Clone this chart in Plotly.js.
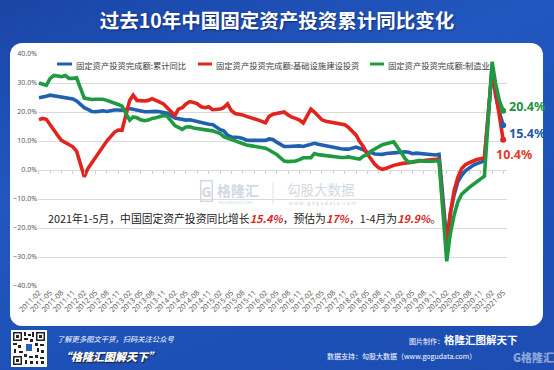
<!DOCTYPE html>
<html>
<head>
<meta charset="utf-8">
<script src="https://cdn.plot.ly/plotly-3.0.1.min.js"></script>
<style>
html,body{margin:0;padding:0;width:554px;height:370px;overflow:hidden;background:#1e4fb3;}
#bg{position:absolute;left:0;top:0;width:554px;height:370px;
 background:linear-gradient(160deg,#1a45a6 0%,#2157bf 35%,#1d52b8 60%,#1c4db2 100%);}
#panel{position:absolute;left:10px;top:43px;width:533px;height:283px;background:#ffffff;border-radius:12px;}
#qr{position:absolute;left:11px;top:330px;}
#chart{position:absolute;left:0;top:0;width:554px;height:370px;}
</style>
</head>
<body>
<div id="bg"></div>
<div id="panel"></div>
<svg id="qr" width="36" height="37" viewBox="0 0 36 37">
 <rect x="0" y="0" width="36" height="37" fill="#fff"/>
 <rect x="2" y="2" width="9" height="9" fill="#222"/><rect x="3.5" y="3.5" width="6" height="6" fill="#fff"/><rect x="5" y="5" width="3" height="3" fill="#222"/>
 <rect x="25" y="2" width="9" height="9" fill="#222"/><rect x="26.5" y="3.5" width="6" height="6" fill="#fff"/><rect x="28" y="5" width="3" height="3" fill="#222"/>
 <rect x="2" y="26" width="9" height="9" fill="#222"/><rect x="3.5" y="27.5" width="6" height="6" fill="#fff"/><rect x="5" y="29" width="3" height="3" fill="#222"/>
 <rect x="13" y="2" width="2" height="4" fill="#222"/><rect x="17" y="4" width="3" height="2" fill="#222"/><rect x="21" y="2" width="2" height="5" fill="#222"/>
 <rect x="13" y="8" width="4" height="2" fill="#222"/><rect x="19" y="9" width="3" height="3" fill="#222"/><rect x="2" y="13" width="4" height="2" fill="#222"/>
 <rect x="7" y="15" width="3" height="3" fill="#222"/><rect x="3" y="19" width="2" height="4" fill="#222"/><rect x="8" y="21" width="4" height="2" fill="#222"/>
 <rect x="15" y="14" width="6" height="7" fill="#2a5fb8"/><rect x="24" y="13" width="3" height="3" fill="#222"/><rect x="29" y="14" width="4" height="2" fill="#222"/>
 <rect x="26" y="18" width="2" height="4" fill="#222"/><rect x="30" y="20" width="3" height="3" fill="#222"/><rect x="13" y="24" width="3" height="3" fill="#222"/>
 <rect x="18" y="26" width="4" height="2" fill="#222"/><rect x="14" y="30" width="2" height="4" fill="#222"/><rect x="19" y="31" width="3" height="3" fill="#222"/>
 <rect x="24" y="25" width="3" height="3" fill="#222"/><rect x="29" y="27" width="4" height="2" fill="#222"/><rect x="25" y="31" width="2" height="3" fill="#222"/><rect x="30" y="31" width="3" height="3" fill="#222"/>
</svg>
<div id="chart"></div>
<script>
// ---- data ----
const months = [
 '2011-02','2011-03','2011-04','2011-05','2011-06','2011-07','2011-08','2011-09','2011-10','2011-11','2011-12',
 '2012-02','2012-03','2012-04','2012-05','2012-06','2012-07','2012-08','2012-09','2012-10','2012-11','2012-12',
 '2013-02','2013-03','2013-04','2013-05','2013-06','2013-07','2013-08','2013-09','2013-10','2013-11','2013-12',
 '2014-02','2014-03','2014-04','2014-05','2014-06','2014-07','2014-08','2014-09','2014-10','2014-11','2014-12',
 '2015-02','2015-03','2015-04','2015-05','2015-06','2015-07','2015-08','2015-09','2015-10','2015-11','2015-12',
 '2016-02','2016-03','2016-04','2016-05','2016-06','2016-07','2016-08','2016-09','2016-10','2016-11','2016-12',
 '2017-02','2017-03','2017-04','2017-05','2017-06','2017-07','2017-08','2017-09','2017-10','2017-11','2017-12',
 '2018-02','2018-03','2018-04','2018-05','2018-06','2018-07','2018-08','2018-09','2018-10','2018-11','2018-12',
 '2019-02','2019-03','2019-04','2019-05','2019-06','2019-07','2019-08','2019-09','2019-10','2019-11','2019-12',
 '2020-02','2020-03','2020-04','2020-05','2020-06','2020-07','2020-08','2020-09','2020-10','2020-11','2020-12',
 '2021-02','2021-03','2021-04','2021-05'
];
// 固定资产投资完成额:累计同比 (%)
const totalYoY = [
 24.9,25.0,25.4,25.8,25.6,25.4,25.0,24.9,24.9,24.5,23.8,
 21.5,20.9,20.2,20.1,20.4,20.4,20.2,20.5,20.7,20.7,20.6,
 21.2,20.9,20.6,20.4,20.1,20.1,20.3,20.2,20.1,19.9,19.6,
 17.9,17.6,17.3,17.2,17.3,17.0,16.5,16.1,15.9,15.8,15.7,
 13.9,13.5,12.0,11.4,11.4,11.2,10.9,10.3,10.2,10.2,10.0,
 10.2,10.7,10.5,9.6,9.0,8.1,8.1,8.2,8.3,8.3,8.1,
 8.9,9.2,8.9,8.6,8.6,8.3,7.8,7.5,7.3,7.2,7.2,
 7.9,7.5,7.0,6.1,6.0,5.5,5.3,5.4,5.7,5.9,5.9,
 6.1,6.3,6.1,5.6,5.8,5.7,5.5,5.4,5.2,5.2,5.4,
 -24.5,-15.0,-8.5,-4.0,-1.8,-0.3,0.8,1.6,2.2,2.7,3.1,
 35.0,25.6,19.9,15.4
];
// 固定资产投资完成额:基础设施建设投资 (%)
const infraYoY = [
 17.3,17.8,17.5,15.5,13.8,12.0,10.2,9.5,9.0,8.0,6.5,
 -2.3,0.5,2.5,4.5,6.5,8.5,10.0,11.5,13.0,13.8,13.7,
 24.0,25.8,24.0,23.8,23.8,24.0,24.6,24.0,23.3,22.8,21.5,
 18.8,21.0,21.5,22.8,23.6,23.3,22.8,21.8,21.5,21.8,20.8,
 21.0,21.5,22.8,20.5,19.5,19.3,19.0,18.5,18.0,17.7,17.3,
 16.3,18.5,19.2,19.5,19.8,20.0,19.0,18.2,17.8,17.2,16.2,
 21.0,20.0,18.5,17.3,16.8,16.6,16.4,16.2,16.0,15.6,14.7,
 12.0,9.8,8.0,5.6,3.8,2.0,0.8,0.2,0.6,1.1,1.6,
 2.2,2.4,2.6,2.9,3.0,3.2,3.3,3.4,3.5,3.6,3.7,
 -27.0,-15.0,-7.0,-2.5,0.5,1.8,2.5,3.2,3.6,3.9,4.2,
 34.5,26.8,18.4,10.4
];
// 固定资产投资完成额:制造业 (%)
const mfgYoY = [
 30.0,29.5,29.2,31.5,32.6,32.4,32.2,32.6,31.6,31.6,31.8,
 24.8,24.5,24.3,24.4,24.5,24.4,24.0,23.6,23.1,22.6,22.0,
 17.2,18.3,18.0,17.3,17.0,17.2,17.8,18.0,18.5,18.8,18.5,
 15.3,14.7,14.0,14.8,14.9,14.5,14.3,14.2,13.9,13.8,13.5,
 12.6,11.5,11.0,10.5,10.3,9.8,9.2,8.6,8.4,8.2,7.9,
 7.5,6.9,6.2,5.4,4.2,3.1,2.9,3.0,3.1,3.6,4.2,
 4.2,5.7,5.3,5.1,5.0,4.8,4.6,4.4,4.3,4.3,4.5,
 4.0,3.8,4.8,5.3,6.5,7.4,8.0,8.7,9.1,9.5,9.7,
 5.9,4.0,2.6,2.8,3.0,3.3,3.0,2.9,3.0,3.1,3.2,
 -31.5,-22.0,-15.5,-11.0,-8.3,-7.0,-6.0,-5.0,-4.0,-3.0,-2.1,
 37.3,29.8,23.8,20.4
];
const seriesNames = ['固定资产投资完成额:累计同比','固定资产投资完成额:基础设施建设投资','固定资产投资完成额:制造业'];
const seriesData = [totalYoY, infraYoY, mfgYoY];
const titleText = '过去10年中国固定资产投资累计同比变化';

// ---- styles ----
const lineColors = ['#2160b0','#e3241d','#1f9a40'];
const labelColors = ['#2458a8','#e23a2e','#22923f'];
const FONT = 'Noto Sans CJK SC, sans-serif';
const ML = 38, MT = 54, PW = 469, PH = 232;
const fx = x => (x - ML) / PW;
const fy = y => (MT + PH - y) / PH;

const traces = [];
seriesData.forEach((d, i) => {
  traces.push({type:'scatter', mode:'lines', x: months, y: d, name: seriesNames[i],
    line:{color: lineColors[i], width: 3.6}, hoverinfo:'skip', showlegend:false});
});
seriesData.forEach((d, i) => {
  const n = d.length - 1;
  traces.push({type:'scatter', mode:'markers', x:[months[n]], y:[d[n]], xaxis:'x2',
    marker:{color: lineColors[i], size: 6}, hoverinfo:'skip', showlegend:false});
});

const shapes = [];
const annotations = [];
// manual legend
const legendItems = [
  {x0:57, x1:72, tx:74},
  {x0:198, x1:212, tx:214},
  {x0:370, x1:384, tx:386}
];
legendItems.forEach((it, i) => {
  shapes.push({type:'line', xref:'paper', yref:'paper', x0:fx(it.x0), x1:fx(it.x1), y0:fy(64), y1:fy(64),
    line:{color: lineColors[i], width: 3}});
  annotations.push({xref:'paper', yref:'paper', x:fx(it.tx), y:fy(64.5), xanchor:'left', yanchor:'middle',
    text: seriesNames[i], showarrow:false, font:{family:FONT, size:8.3, color:'#404040'}});
});
// end labels
[0,1,2].forEach(i => {
  const d = seriesData[i], n = d.length - 1;
  const o = [ {xs:4, ys:-8}, {xs:-9, ys:-15}, {xs:4, ys:4} ][i];
  annotations.push({x: months[n], y: d[n], xref:'x', yref:'y', xanchor:'left', yanchor:'middle',
    xshift:o.xs, yshift:o.ys, showarrow:false, text: d[n].toFixed(1) + '%',
    font:{family:'Noto Sans, DejaVu Sans, sans-serif', size:12.5, color: labelColors[i], weight:700}});
});
// watermark
annotations.push({xref:'paper', yref:'paper', x:fx(206.5), y:fy(191), xanchor:'center', yanchor:'middle', showarrow:false,
  text:'G', font:{family:'Noto Sans, sans-serif', size:14, color:'#d3d9e3', weight:700},
  bordercolor:'#d3d9e3', borderwidth:1.5, borderpad:0});
annotations.push({xref:'paper', yref:'paper', x:fx(215), y:fy(190), xanchor:'left', yanchor:'middle', showarrow:false,
  text:'格隆汇', font:{family:FONT, size:14, color:'#d3d9e3', weight:700}});
annotations.push({xref:'paper', yref:'paper', x:fx(216), y:fy(203), xanchor:'left', yanchor:'middle', showarrow:false,
  text:'GELONGHUI.COM', font:{family:'Noto Sans, sans-serif', size:4, color:'#d3d9e3'}});
shapes.push({type:'line', xref:'paper', yref:'paper', x0:fx(273), x1:fx(273), y0:fy(182), y1:fy(204), line:{color:'#dde1e8', width:1}});
annotations.push({xref:'paper', yref:'paper', x:fx(285), y:fy(189), xanchor:'left', yanchor:'middle', showarrow:false,
  text:'勾股大数据', font:{family:FONT, size:13.5, color:'#d3d9e3'}});
annotations.push({xref:'paper', yref:'paper', x:fx(287), y:fy(203), xanchor:'left', yanchor:'middle', showarrow:false,
  text:'w w w . g o g u d a t a . c o m', font:{family:'Noto Sans, sans-serif', size:5, color:'#ccd2dc'}});
// note text
const hl = s => '<span style="color:#d42a2a"><b><i>' + s + '</i></b></span>';
annotations.push({xref:'paper', yref:'paper', x:fx(46), y:fy(218), xanchor:'left', yanchor:'middle', showarrow:false,
  text:'2021年1-5月，中国固定资产投资同比增长' + hl('15.4%') + '，预估为' + hl('17%') + '，1-4月为' + hl('19.9%') + '。',
  font:{family:FONT, size:10.8, color:'#222222'}});
// footer
annotations.push({xref:'paper', yref:'paper', x:fx(55), y:fy(339), xanchor:'left', yanchor:'middle', showarrow:false,
  text:'<i>了解更多图文干货，扫码关注公众号</i>', font:{family:FONT, size:7.3, color:'#ffffff'}});
annotations.push({xref:'paper', yref:'paper', x:fx(58), y:fy(356), xanchor:'left', yanchor:'middle', showarrow:false,
  text:'<i>“格隆汇图解天下”</i>', font:{family:FONT, size:11, color:'#ffffff', weight:900, shadow:'1px 1px 1px #1a1a1a'}});
annotations.push({xref:'paper', yref:'paper', x:fx(407), y:fy(339), xanchor:'left', yanchor:'middle', showarrow:false,
  text:'图片制作：<b><span style="font-size:10.5px">格隆汇图解天下</span></b>', font:{family:FONT, size:7, color:'#ffffff'}});
annotations.push({xref:'paper', yref:'paper', x:fx(325), y:fy(356), xanchor:'left', yanchor:'middle', showarrow:false,
  text:'数据支持：勾股大数据（www.gogudata.com）', font:{family:FONT, size:7, color:'#ffffff'}});
annotations.push({xref:'paper', yref:'paper', x:fx(511), y:fy(357), xanchor:'left', yanchor:'middle', showarrow:false,
  text:'G格隆汇', font:{family:FONT, size:11, color:'rgba(255,255,255,0.5)', weight:900}});

const xRange = ['2011-01-24','2021-06-01'];
const layout = {
  width:554, height:370,
  margin:{l:ML, r:554-ML-PW, t:MT, b:370-MT-PH},
  paper_bgcolor:'rgba(0,0,0,0)', plot_bgcolor:'rgba(0,0,0,0)',
  title:{text:titleText, x:0.5, xref:'container', xanchor:'center', y:1-21/370, yref:'container', yanchor:'middle',
    font:{family:FONT, size:19.5, color:'#ffffff', weight:700, shadow:'1px 1px 2px rgba(0,0,40,0.45)'}},
  xaxis:{type:'date', range:xRange, tick0:'2011-02-01', dtick:'M3', tickformat:'%Y-%m', tickangle:-45,
    showgrid:false, zeroline:false, showline:false, ticks:'', fixedrange:true,
    tickfont:{family:'Noto Sans, DejaVu Sans, sans-serif', size:7.3, color:'#595959'}},
  xaxis2:{type:'date', range:xRange, overlaying:'x', anchor:'free', position:0.5, tick0:'2011-02-01', dtick:'M3',
    showgrid:false, zeroline:false, showline:false, ticks:'outside', ticklen:3, tickwidth:1, tickcolor:'#cfcfcf',
    showticklabels:false, fixedrange:true},
  yaxis:{range:[-40,40], dtick:10, tickformat:'.1f', ticksuffix:'%', showgrid:true, gridcolor:'#dadada', gridwidth:1,
    zeroline:false, showline:false, ticks:'', fixedrange:true,
    tickfont:{family:'Noto Sans, DejaVu Sans, sans-serif', size:7, color:'#595959'}},
  shapes: shapes,
  annotations: annotations,
  showlegend:false
};
Plotly.newPlot('chart', traces, layout, {displayModeBar:false, staticPlot:true});
</script>
</body>
</html>
